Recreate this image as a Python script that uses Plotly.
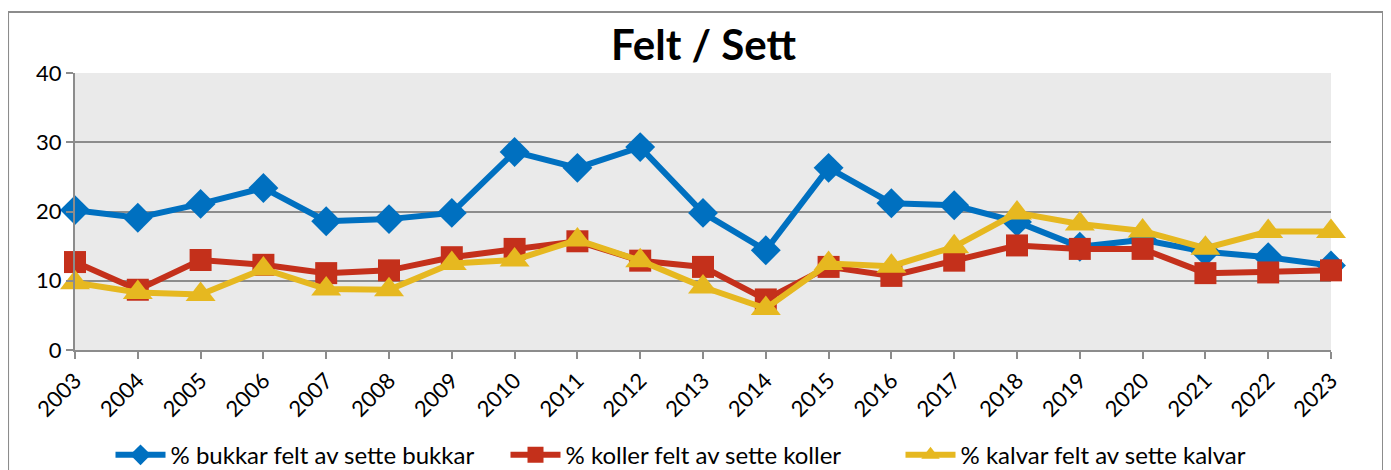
import plotly.graph_objects as go

years = [str(y) for y in range(2003, 2024)]
bukkar = [20.2, 19.1, 21.1, 23.4, 18.6, 18.9, 19.8, 28.6, 26.3, 29.3, 19.8, 14.4,
          26.3, 21.2, 20.9, 18.5, 14.9, 15.9, 14.2, 13.4, 12.2]
koller = [12.7, 8.7, 13.0, 12.3, 11.1, 11.5, 13.4, 14.6, 15.7, 12.9, 12.0, 7.3,
          12.0, 10.7, 12.9, 15.1, 14.6, 14.6, 11.1, 11.2, 11.5]
kalvar = [9.7, 8.3, 8.0, 11.7, 8.8, 8.7, 12.5, 13.0, 15.9, 12.9, 9.1, 6.0,
          12.5, 12.1, 14.9, 19.8, 18.2, 17.2, 14.7, 17.1, 17.1]

names = ["% bukkar felt av sette bukkar", "% koller felt av sette koller",
         "% kalvar felt av sette kalvar"]
colors = ["#0070C0", "#C4301B", "#E6B820"]
symbols = ["diamond", "square", "triangle-up"]
sizes = [23, 22, 26]

FONT = "Lato, 'Noto Sans', sans-serif"

fig = go.Figure()
for vals, name, col, sym, sz in zip([bukkar, koller, kalvar], names, colors, symbols, sizes):
    fig.add_trace(go.Scatter(
        x=years, y=vals, name=name, mode="lines+markers",
        line=dict(color=col, width=6),
        marker=dict(symbol=sym, size=sz, color=col),
        cliponaxis=False,
    ))

fig.update_layout(
    width=1391, height=470,
    margin=dict(l=67, r=68, t=65, b=128, autoexpand=False),
    paper_bgcolor="white",
    plot_bgcolor="#EAEAEA",
    font=dict(family=FONT, color="black", size=20),
    title=dict(text="<b>Felt / Sett</b>", x=0.5, xanchor="center", y=0.92, yanchor="middle",
               font=dict(family=FONT, size=42, color="black")),
    showlegend=True,
    legend=dict(orientation="h", x=0.5, xanchor="center", y=-0.38, yanchor="middle",
                font=dict(family=FONT, size=24), itemwidth=50, bgcolor="rgba(0,0,0,0)",
                entrywidth=330, entrywidthmode="pixels"),
    xaxis=dict(
        type="category", tickangle=-45, showgrid=False, automargin=False,
        showline=True, linecolor="#8C8C8C", linewidth=2,
        ticks="outside", ticklen=7, tickcolor="#8C8C8C", tickwidth=2,
        tickfont=dict(family=FONT, size=22), range=[0, 20],
    ),
    yaxis=dict(
        range=[0, 40], tickvals=[0, 10, 20, 30, 40], showgrid=True, automargin=False,
        gridcolor="#8C8C8C", gridwidth=2, zeroline=False,
        showline=True, linecolor="#8C8C8C", linewidth=2,
        ticks="outside", ticklen=7, tickcolor="#8C8C8C", tickwidth=2,
        tickfont=dict(family=FONT, size=22),
    ),
    shapes=[dict(type="rect", xref="paper", yref="paper",
                 x0=-0.0533, x1=1.0414, y0=-0.46, y1=1.2202,
                 line=dict(color="#8C8C8C", width=2), layer="below")],
)

fig.write_html("out.html")
